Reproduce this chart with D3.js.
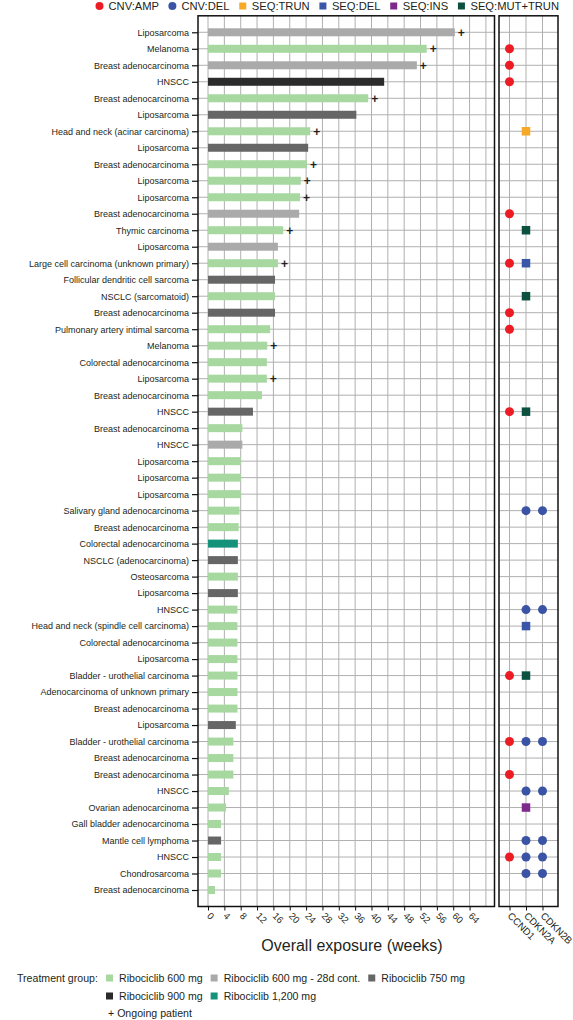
<!DOCTYPE html>
<html><head><meta charset="utf-8">
<script src="https://cdn.jsdelivr.net/npm/d3@7"></script>
<style>
body{margin:0;background:#fff}
svg{display:block}
text{font-family:"Liberation Sans",Arial,Helvetica,sans-serif;fill:#231f20}
</style>
</head><body><svg id="c" width="573" height="1020"></svg>
<script>
// ---------------- data ----------------
const tumorTypes = [
"Liposarcoma","Melanoma","Breast adenocarcinoma","HNSCC","Breast adenocarcinoma","Liposarcoma",
"Head and neck (acinar carcinoma)","Liposarcoma","Breast adenocarcinoma","Liposarcoma","Liposarcoma",
"Breast adenocarcinoma","Thymic carcinoma","Liposarcoma","Large cell carcinoma (unknown primary)",
"Follicular dendritic cell sarcoma","NSCLC (sarcomatoid)","Breast adenocarcinoma","Pulmonary artery intimal sarcoma",
"Melanoma","Colorectal adenocarcinoma","Liposarcoma","Breast adenocarcinoma","HNSCC","Breast adenocarcinoma",
"HNSCC","Liposarcoma","Liposarcoma","Liposarcoma","Salivary gland adenocarcinoma","Breast adenocarcinoma",
"Colorectal adenocarcinoma","NSCLC (adenocarcinoma)","Osteosarcoma","Liposarcoma","HNSCC",
"Head and neck (spindle cell carcinoma)","Colorectal adenocarcinoma","Liposarcoma","Bladder - urothelial carcinoma",
"Adenocarcinoma of unknown primary","Breast adenocarcinoma","Liposarcoma","Bladder - urothelial carcinoma",
"Breast adenocarcinoma","Breast adenocarcinoma","HNSCC","Ovarian adenocarcinoma","Gall bladder adenocarcinoma",
"Mantle cell lymphoma","HNSCC","Chondrosarcoma","Breast adenocarcinoma"];

const exposureWeeks = [
60.4,53.5,51.1,43.1,39.2,36.3,25.0,24.5,24.2,22.7,22.5,22.3,18.4,17.1,17.1,16.4,16.4,16.4,15.2,
14.5,14.4,14.4,13.2,11.0,8.4,8.4,8.0,8.0,8.0,7.7,7.5,7.3,7.3,7.3,7.3,7.2,7.2,7.2,7.2,7.2,7.2,7.2,
6.8,6.2,6.2,6.2,5.1,4.4,3.2,3.2,3.2,3.2,1.7];

const treatmentGroup = [
"28d","600","28d","900","600","750","600","750","600","600","600","28d","600","28d","600","750","600","750","600",
"600","600","600","600","750","600","28d","600","600","600","600","600","1200","750","600","750","600","600","600",
"600","600","600","600","750","600","600","600","600","600","600","750","600","600","600"];

const ongoing = [1,1,1,0,1,0,1,0,1,1,1,0,1,0,1,0,0,0,0,1,0,1,0,0,0,0,0,0,0,0,0,0,0,0,0,0,0,0,0,0,0,0,0,0,0,0,0,0,0,0,0,0,0];

const groupKeys   = ["600","28d","750","900","1200"];
const groupLabels = ["Ribociclib 600 mg","Ribociclib 600 mg - 28d cont.","Ribociclib 750 mg","Ribociclib 900 mg","Ribociclib 1,200 mg"];
const groupColors = ["#a6d8a0","#aaaaaa","#666666","#2b2b2b","#14937a"];

const genes = ["CCND1","CDKN2A","CDKN2B"];
const altTypes  = ["CNV:AMP","CNV:DEL","SEQ:TRUN","SEQ:DEL","SEQ:INS","SEQ:MUT+TRUN"];
const altColors = ["#ec1c24","#3a53a4","#f8a827","#3a56a8","#7d2a8c","#0c5140"];
const altShapes = ["circle","circle","square","square","square","square"];

// alterations: row (0-based), gene, type
const altRows  = [1,2,3,6,11,12,14,14,16,17,18,23,23,29,29,35,35,36,39,39,43,43,43,45,46,46,47,49,49,50,50,50,51,51];
const altGenes = ["CCND1","CCND1","CCND1","CDKN2A","CCND1","CDKN2A","CCND1","CDKN2A","CDKN2A","CCND1","CCND1",
"CCND1","CDKN2A","CDKN2A","CDKN2B","CDKN2A","CDKN2B","CDKN2A","CCND1","CDKN2A","CCND1","CDKN2A","CDKN2B",
"CCND1","CDKN2A","CDKN2B","CDKN2A","CDKN2A","CDKN2B","CCND1","CDKN2A","CDKN2B","CDKN2A","CDKN2B"];
const altKinds = ["CNV:AMP","CNV:AMP","CNV:AMP","SEQ:TRUN","CNV:AMP","SEQ:MUT+TRUN","CNV:AMP","SEQ:DEL","SEQ:MUT+TRUN",
"CNV:AMP","CNV:AMP","CNV:AMP","SEQ:MUT+TRUN","CNV:DEL","CNV:DEL","CNV:DEL","CNV:DEL","SEQ:DEL","CNV:AMP","SEQ:MUT+TRUN",
"CNV:AMP","CNV:DEL","CNV:DEL","CNV:AMP","CNV:DEL","CNV:DEL","SEQ:INS","CNV:DEL","CNV:DEL","CNV:AMP","CNV:DEL","CNV:DEL",
"CNV:DEL","CNV:DEL"];

const xTicks = d3.range(0, 65, 4);
const xGrid = d3.range(0, 69, 4);

// ---------------- layout ----------------
const svg = d3.select("#c");
const mainL = 198, mainR = 494.5, plotTop = 15.8, plotBottom = 906.5;
const sideL = 499, sideR = 558;

const x = d3.scaleLinear().domain([-2.45, 70.1]).range([mainL, mainR]);
const y = d3.scalePoint().domain(d3.range(tumorTypes.length)).range([plotTop, plotBottom]).padding(1);
const gx = d3.scalePoint().domain(genes).range([509.5, 542.5]);
const colorOf = d3.scaleOrdinal().domain(groupKeys).range(groupColors);
const altColor = d3.scaleOrdinal().domain(altTypes).range(altColors);
const altShape = d3.scaleOrdinal().domain(altTypes).range(altShapes);

const gridColor = "#b0b0b0";
const grid = svg.append("g");
grid.selectAll(".hg").data(y.domain()).join("line")
  .attr("x1", mainL).attr("x2", mainR).attr("y1", d => y(d)).attr("y2", d => y(d))
  .attr("stroke", gridColor).attr("stroke-width", 1);
grid.selectAll(".vg").data(xGrid).join("line")
  .attr("x1", d => x(d)).attr("x2", d => x(d)).attr("y1", plotTop).attr("y2", plotBottom)
  .attr("stroke", gridColor).attr("stroke-width", 1);
const grid2 = svg.append("g");
grid2.selectAll(".hs").data(y.domain()).join("line")
  .attr("x1", sideL).attr("x2", sideR).attr("y1", d => y(d)).attr("y2", d => y(d))
  .attr("stroke", gridColor).attr("stroke-width", 1);
const grid3 = svg.append("g");
grid3.selectAll(".vs").data(genes).join("line")
  .attr("x1", d => gx(d)).attr("x2", d => gx(d)).attr("y1", plotTop).attr("y2", plotBottom)
  .attr("stroke", gridColor).attr("stroke-width", 1);

// bars
const barH = 8;
svg.append("g").selectAll("rect").data(exposureWeeks).join("rect")
  .attr("x", x(0)).attr("y", (d, i) => y(i) - barH / 2)
  .attr("width", d => x(d) - x(0)).attr("height", barH)
  .attr("fill", (d, i) => colorOf(treatmentGroup[i]));

// ongoing markers
svg.append("g").selectAll("text").data(exposureWeeks.map((v, i) => ({v, i})).filter(d => ongoing[d.i]))
  .join("text")
  .attr("x", d => x(d.v) + 6.5).attr("y", d => y(d.i))
  .attr("dy", "0.36em").attr("text-anchor", "middle")
  .style("font-size", "12px").style("font-weight", "bold").text("+");

// alterations
const alts = altRows.map((r, k) => ({r, g: altGenes[k], t: altKinds[k]}));
const ag = svg.append("g");
ag.selectAll("circle").data(alts.filter(d => altShape(d.t) === "circle")).join("circle")
  .attr("cx", d => gx(d.g)).attr("cy", d => y(d.r)).attr("r", 4.5)
  .attr("fill", d => altColor(d.t));
const sq = 8.5;
ag.selectAll("rect").data(alts.filter(d => altShape(d.t) === "square")).join("rect")
  .attr("x", d => gx(d.g) - sq / 2).attr("y", d => y(d.r) - sq / 2)
  .attr("width", sq).attr("height", sq).attr("fill", d => altColor(d.t));

// frames
svg.append("rect").attr("x", mainL).attr("y", plotTop).attr("width", mainR - mainL).attr("height", plotBottom - plotTop)
  .attr("fill", "none").attr("stroke", "#111").attr("stroke-width", 1.5);
svg.append("rect").attr("x", sideL).attr("y", plotTop).attr("width", sideR - sideL).attr("height", plotBottom - plotTop)
  .attr("fill", "none").attr("stroke", "#111").attr("stroke-width", 1.5);

// y axis
const yAx = svg.append("g").attr("transform", `translate(${mainL},0)`)
  .call(d3.axisLeft(y).tickSize(6).tickPadding(3).tickFormat(i => tumorTypes[i]));
yAx.select(".domain").remove();
yAx.selectAll(".tick line").attr("stroke", "#111").attr("stroke-width", 1.2);
yAx.selectAll(".tick text").style("font-size", "9px").attr("fill", "#231f20");

// x axis
const xAx = svg.append("g").attr("transform", `translate(0,${plotBottom})`)
  .call(d3.axisBottom(x).tickValues(xTicks).tickSize(4).tickFormat(d3.format("d")));
xAx.select(".domain").remove();
xAx.selectAll(".tick line").attr("stroke", "#111");
xAx.selectAll(".tick text").attr("y", 0).attr("dy", 0)
  .attr("text-anchor", "start").attr("transform", "translate(-2,10) rotate(45)")
  .style("font-size", "9.5px").attr("fill", "#231f20");

const gAx = svg.append("g").attr("transform", `translate(0,${plotBottom})`)
  .call(d3.axisBottom(gx).tickSize(4));
gAx.select(".domain").remove();
gAx.selectAll(".tick line").attr("stroke", "#111");
gAx.selectAll(".tick text").attr("y", 0).attr("dy", 0)
  .attr("text-anchor", "start").attr("transform", "translate(-3,10) rotate(45)")
  .style("font-size", "9.8px").attr("fill", "#231f20");

svg.append("text").attr("x", 352).attr("y", 951).attr("text-anchor", "middle")
  .style("font-size", "16px").text("Overall exposure (weeks)");

// top legend
const tl = svg.append("g");
const tItems = tl.selectAll("g").data(altTypes).join("g");
tItems.append("text").attr("y", 6).attr("dy", "0.36em").style("font-size", "11.2px").text(d => d);
const tw = [];
tItems.each(function(){ tw.push(this.querySelector("text").getComputedTextLength()); });
const mW = 8, mGap = 5;
const legStart = 95.5, legEnd = 559;
const tGap = (legEnd - legStart - d3.sum(tw) - altTypes.length * (mW + mGap)) / (altTypes.length - 1);
let curX = legStart;
tItems.each(function(d, i){
  const g = d3.select(this).attr("transform", `translate(${curX},0)`);
  if (altShape(d) === "circle") g.insert("circle", "text").attr("cx", 4).attr("cy", 6).attr("r", 4).attr("fill", altColor(d));
  else g.insert("rect", "text").attr("x", 0.5).attr("y", 2.5).attr("width", 7).attr("height", 7).attr("fill", altColor(d));
  g.select("text").attr("x", mW + mGap);
  curX += mW + mGap + tw[i] + tGap;
});

// bottom legend
const bl = svg.append("g");
bl.append("text").attr("x", 17).attr("y", 978).attr("dy", "0.36em").style("font-size", "10.6px").text("Treatment group:");
const rowsOf = [[0,1,2],[3,4]];
const rowY = [978, 996];
rowsOf.forEach((idxs, r) => {
  let px = 106;
  idxs.forEach(k => {
    bl.append("rect").attr("x", px).attr("y", rowY[r] - 3.5).attr("width", 7).attr("height", 7).attr("fill", groupColors[k]);
    const t = bl.append("text").attr("x", px + 13).attr("y", rowY[r]).attr("dy", "0.36em")
      .style("font-size", "10.6px").text(groupLabels[k]);
    px += 13 + t.node().getComputedTextLength() + 8;
  });
});
bl.append("text").attr("x", 108).attr("y", 1013).attr("dy", "0.36em").style("font-size", "10.6px").text("+ Ongoing patient");
</script>
</body></html>
